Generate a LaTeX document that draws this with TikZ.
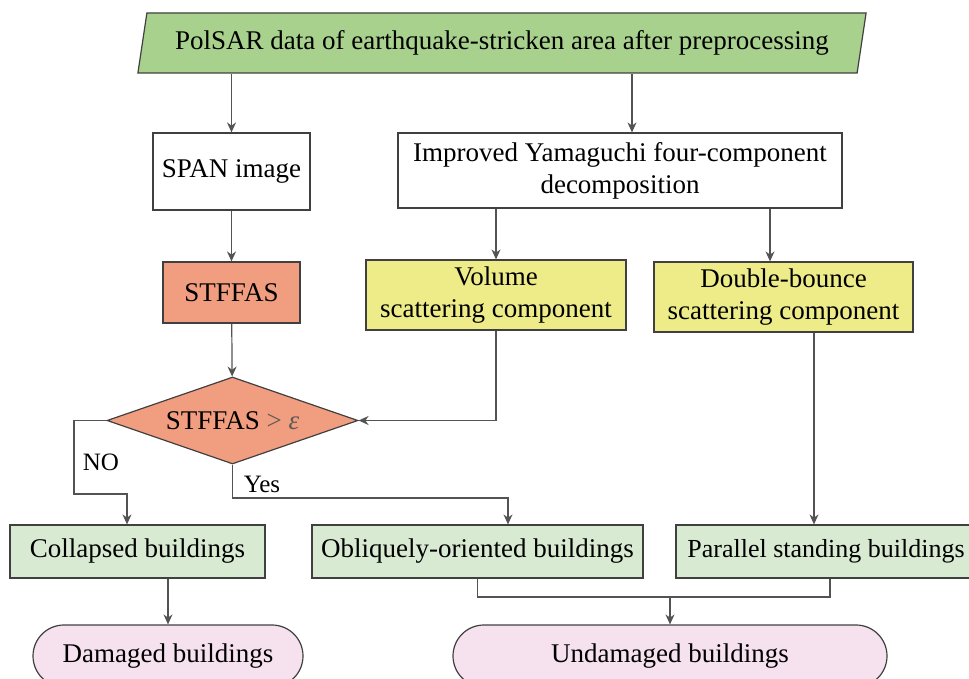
\documentclass[tikz,border=0pt]{standalone}
\usepackage{fontspec}
\setmainfont{Liberation Serif}
\usetikzlibrary{shapes.geometric,shapes.misc,arrows.meta}

\definecolor{inputgreen}{RGB}{169,209,142}
\definecolor{resultgreen}{RGB}{216,234,210}
\definecolor{salmon}{RGB}{241,157,128}
\definecolor{compyellow}{RGB}{238,236,137}
\definecolor{endpink}{RGB}{246,225,238}
\definecolor{edge}{RGB}{64,64,64}
\definecolor{dimtext}{RGB}{95,90,85}

\begin{document}
\begin{tikzpicture}[x=1pt, y=-1pt,
    box/.style={draw=edge, line width=1.2pt, inner sep=0pt, align=center,
        font=\fontsize{27}{32}\selectfont},
    arr/.style={draw=edge!90, line width=1.2pt, -{Stealth[length=10pt,width=9pt]}},
    link/.style={draw=edge!90, line width=1.2pt}]
    \useasboundingbox (0,0) rectangle (969,679);
    \clip (0,0) rectangle (969,679);

    % Input data
    \node[box, fill=inputgreen, shape=trapezium, trapezium left angle=71.6,
        trapezium right angle=108.4, trapezium stretches=true,
        minimum width=734pt, minimum height=60pt] (input) at (502,43)
        {PolSAR data of earthquake-stricken area after preprocessing};

    % Left branch
    \node[box, fill=white, minimum width=157pt, minimum height=77pt] (span) at (231.5,171.5) {SPAN image};
    \node[box, fill=salmon, minimum width=137pt, minimum height=61pt] (stffas) at (231.5,292.5) {STFFAS};
    \node[box, fill=salmon, shape=diamond, aspect=2.9, minimum width=251pt, minimum height=87pt] (test) at (232.5,420.5)
        {STFFAS \textcolor{dimtext}{> \textit{ε}}};

    % Right branch
    \node[box, fill=white, minimum width=444pt, minimum height=75pt] (yama) at (620,170.5)
        {Improved Yamaguchi four-component\\decomposition};
    \node[box, fill=compyellow, minimum width=260pt, minimum height=70pt] (volume) at (496,295)
        {Volume\\scattering component};
    \node[box, fill=compyellow, minimum width=259pt, minimum height=70pt] (double) at (783.5,297)
        {Double-bounce\\scattering component};

    % Building classes
    \node[box, fill=resultgreen, minimum width=255pt, minimum height=53pt] (collapsed) at (137.5,551.5) {Collapsed buildings};
    \node[box, fill=resultgreen, minimum width=331pt, minimum height=53pt] (oblique) at (477.5,551.5) {Obliquely-oriented buildings};
    \node[box, fill=resultgreen, minimum width=300pt, minimum height=53pt, font=\fontsize{26}{32}\selectfont] (parallel) at (826,551.5) {Parallel standing buildings};

    % Results
    \node[box, fill=endpink, shape=rounded rectangle, minimum width=270pt, minimum height=62pt] (damaged) at (168,656) {Damaged buildings};
    \node[box, fill=endpink, shape=rounded rectangle, minimum width=434pt, minimum height=62pt] (undamaged) at (670,656) {Undamaged buildings};

    % Bends
    \coordinate (noleft) at (74,494);
    \coordinate (noend) at (127,494);
    \coordinate (yesend) at (508,498);
    \coordinate (merge) at (670,597);

    % Connectors
    \draw[arr] (span.north |- input.south) -- (span.north);
    \draw[arr] ([xshift=12pt]yama.north |- input.south) -- ([xshift=12pt]yama.north);
    \draw[arr] (span) -- (stffas);
    \draw[arr] (stffas) -- (test);
    \draw[arr] (volume.north |- yama.south) -- (volume.north);
    \draw[arr] ([xshift=-13.5pt]double.north |- yama.south) -- ([xshift=-13.5pt]double.north);
    \draw[arr] (volume.south) |- (test.east);
    \draw[arr] (test.west) -| (noleft) -- (noend) -- (noend |- collapsed.north);
    \draw[arr] (test.south) |- (yesend) -- (yesend |- oblique.north);
    \draw[arr] ([xshift=30.5pt]double.south) -- ([xshift=30.5pt]double.south |- parallel.north);
    \draw[arr] (damaged.north |- collapsed.south) -- (damaged.north);
    \draw[link] (oblique.south) |- (merge) -| ([xshift=4pt]parallel.south);
    \draw[arr] (merge) -- (undamaged.north);

    % Branch labels
    \node[font=\fontsize{25}{28}\selectfont] (nolabel) at (101,462) {NO};
    \node[font=\fontsize{25}{28}\selectfont] (yeslabel) at (262,484) {Yes};
\end{tikzpicture}
\end{document}
